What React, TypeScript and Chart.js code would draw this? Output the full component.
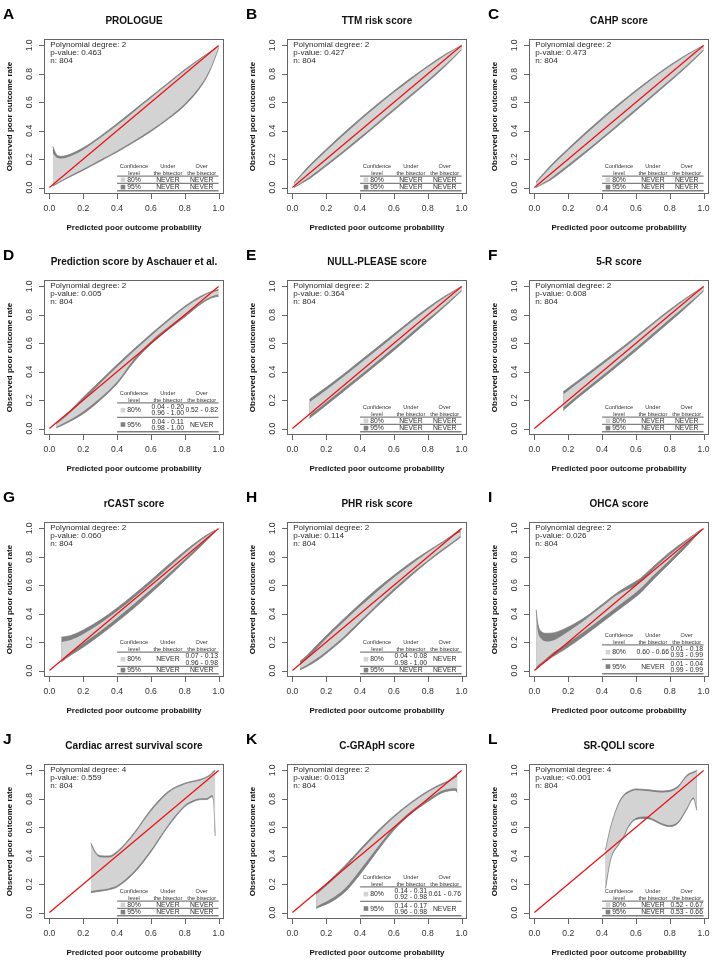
import React, { useEffect, useRef } from 'react';
import { Chart, registerables } from 'chart.js';

Chart.register(...registerables);

const FONT = '"Liberation Sans", Arial, Helvetica, sans-serif';
const LIGHT = '#d3d3d3';
const DARK = '#808080';
const RED = '#ee1111';
const BOX = '#666666';
const INK = '#2a2a2a';

const LETTERS = ['A', 'B', 'C', 'D', 'E', 'F', 'G', 'H', 'I', 'J', 'K', 'L'];
const TITLES = [
  'PROLOGUE', 'TTM risk score', 'CAHP score',
  'Prediction score by Aschauer et al.', 'NULL-PLEASE score', '5-R score',
  'rCAST score', 'PHR risk score', 'OHCA score',
  'Cardiac arrest survival score', 'C-GRApH score', 'SR-QOLI score',
];
const DEGREES = [2, 2, 2, 2, 2, 2, 2, 2, 2, 4, 2, 4];
const P_VALUES = ['0.463', '0.427', '0.473', '0.005', '0.364', '0.608', '0.060', '0.114', '0.026', '0.559', '0.013', '<0.001'];
const N_OBS = [804, 804, 804, 804, 804, 804, 804, 804, 804, 804, 804, 804];
const TICK_VALUES = [0, 0.2, 0.4, 0.6, 0.8, 1.0];
const TICK_LABELS = ['0.0', '0.2', '0.4', '0.6', '0.8', '1.0'];
const X_TITLE = 'Predicted poor outcome probability';
const Y_TITLE = 'Observed poor outcome rate';
const HEADER_1 = ['Confidence', 'Under', 'Over'];
const HEADER_2 = ['level', 'the bisector', 'the bisector'];
const LEVELS = ['80%', '95%'];

// ---- belt data (x, upper95, upper80, lower80, lower95) ----
const A_X = [0.02, 0.04, 0.07, 0.1, 0.2, 0.3, 0.4, 0.5, 0.6, 0.7, 0.8, 0.9, 0.95, 1.0];
const A_UP95 = [0.29, 0.235, 0.22, 0.225, 0.28, 0.36, 0.45, 0.545, 0.64, 0.735, 0.83, 0.915, 0.955, 0.995];
const A_UP80 = [0.245, 0.214, 0.205, 0.21, 0.267, 0.348, 0.438, 0.534, 0.63, 0.726, 0.822, 0.91, 0.952, 0.993];
const A_LO80 = [0.015, 0.03, 0.05, 0.07, 0.13, 0.195, 0.26, 0.33, 0.405, 0.49, 0.59, 0.73, 0.835, 0.985];
const A_LO95 = [0.01, 0.024, 0.044, 0.063, 0.122, 0.186, 0.25, 0.32, 0.395, 0.48, 0.578, 0.718, 0.825, 0.98];

const B_X = [0.01, 0.1, 0.2, 0.3, 0.4, 0.5, 0.6, 0.7, 0.8, 0.9, 1.0];
const B_UP95 = [0.035, 0.155, 0.27, 0.38, 0.485, 0.585, 0.68, 0.77, 0.855, 0.935, 1.0];
const B_UP80 = [0.028, 0.143, 0.257, 0.367, 0.472, 0.572, 0.668, 0.759, 0.846, 0.928, 0.997];
const B_LO80 = [0.004, 0.075, 0.165, 0.258, 0.355, 0.455, 0.555, 0.655, 0.755, 0.86, 0.975];
const B_LO95 = [0.001, 0.063, 0.152, 0.245, 0.342, 0.442, 0.542, 0.642, 0.743, 0.85, 0.97];

const C_X = [0.01, 0.1, 0.2, 0.3, 0.4, 0.5, 0.6, 0.7, 0.8, 0.9, 1.0];
const C_UP95 = [0.04, 0.16, 0.275, 0.385, 0.49, 0.59, 0.685, 0.775, 0.86, 0.935, 1.0];
const C_UP80 = [0.032, 0.148, 0.262, 0.372, 0.478, 0.578, 0.674, 0.765, 0.851, 0.929, 0.997];
const C_LO80 = [0.004, 0.07, 0.16, 0.255, 0.353, 0.453, 0.554, 0.655, 0.756, 0.86, 0.972];
const C_LO95 = [0.001, 0.058, 0.147, 0.242, 0.34, 0.44, 0.541, 0.643, 0.745, 0.85, 0.965];

const D_X = [0.04, 0.08, 0.12, 0.2, 0.3, 0.4, 0.5, 0.6, 0.7, 0.8, 0.9, 0.96, 1.0];
const D_UP95 = [0.036, 0.075, 0.122, 0.22, 0.335, 0.45, 0.56, 0.665, 0.765, 0.86, 0.935, 0.965, 0.978];
const D_UP80 = [0.03, 0.067, 0.108, 0.2, 0.318, 0.433, 0.545, 0.652, 0.753, 0.85, 0.925, 0.958, 0.97];
const D_LO80 = [0.01, 0.035, 0.06, 0.12, 0.215, 0.33, 0.49, 0.615, 0.712, 0.802, 0.89, 0.93, 0.945];
const D_LO95 = [0.005, 0.026, 0.05, 0.105, 0.2, 0.315, 0.47, 0.595, 0.695, 0.785, 0.88, 0.92, 0.93];

const E_X = [0.1, 0.2, 0.3, 0.4, 0.5, 0.6, 0.7, 0.8, 0.9, 1.0];
const E_UP95 = [0.205, 0.29, 0.38, 0.475, 0.57, 0.665, 0.76, 0.85, 0.93, 1.0];
const E_UP80 = [0.185, 0.272, 0.363, 0.458, 0.553, 0.65, 0.746, 0.838, 0.922, 0.996];
const E_LO80 = [0.092, 0.185, 0.28, 0.375, 0.472, 0.57, 0.67, 0.77, 0.87, 0.975];
const E_LO95 = [0.072, 0.165, 0.26, 0.355, 0.452, 0.55, 0.652, 0.754, 0.858, 0.968];

const F_X = [0.17, 0.25, 0.35, 0.45, 0.55, 0.65, 0.75, 0.85, 0.93, 1.0];
const F_UP95 = [0.26, 0.33, 0.42, 0.51, 0.6, 0.695, 0.79, 0.88, 0.945, 1.0];
const F_UP80 = [0.24, 0.313, 0.404, 0.495, 0.587, 0.683, 0.779, 0.871, 0.939, 0.996];
const F_LO80 = [0.15, 0.23, 0.325, 0.42, 0.518, 0.618, 0.72, 0.82, 0.9, 0.975];
const F_LO95 = [0.128, 0.21, 0.305, 0.4, 0.498, 0.598, 0.7, 0.803, 0.888, 0.968];

const G_X = [0.07, 0.1, 0.13, 0.2, 0.3, 0.4, 0.5, 0.6, 0.7, 0.8, 0.9, 0.96, 0.98];
const G_UP95 = [0.235, 0.24, 0.248, 0.285, 0.355, 0.44, 0.535, 0.635, 0.74, 0.84, 0.93, 0.975, 0.988];
const G_UP80 = [0.2, 0.208, 0.217, 0.258, 0.332, 0.418, 0.513, 0.615, 0.72, 0.825, 0.92, 0.97, 0.984];
const G_LO80 = [0.075, 0.105, 0.132, 0.192, 0.277, 0.37, 0.468, 0.57, 0.675, 0.785, 0.895, 0.962, 0.981];
const G_LO95 = [0.06, 0.088, 0.112, 0.165, 0.25, 0.343, 0.44, 0.545, 0.655, 0.768, 0.88, 0.952, 0.974];

const H_X = [0.045, 0.08, 0.15, 0.2, 0.3, 0.4, 0.5, 0.6, 0.7, 0.8, 0.9, 0.98, 0.995];
const H_UP95 = [0.065, 0.1, 0.185, 0.245, 0.36, 0.47, 0.575, 0.67, 0.76, 0.84, 0.915, 0.983, 0.997];
const H_UP80 = [0.04, 0.078, 0.163, 0.225, 0.34, 0.45, 0.555, 0.655, 0.745, 0.83, 0.908, 0.968, 0.975];
const H_LO80 = [0.015, 0.035, 0.09, 0.135, 0.235, 0.35, 0.465, 0.575, 0.68, 0.775, 0.865, 0.935, 0.95];
const H_LO95 = [0.005, 0.025, 0.075, 0.12, 0.22, 0.335, 0.45, 0.56, 0.665, 0.765, 0.855, 0.925, 0.94];

const I_X = [0.01, 0.02, 0.04, 0.07, 0.1, 0.18, 0.3, 0.4, 0.5, 0.6, 0.63, 0.7, 0.8, 0.9, 0.95, 0.99];
const I_UP95 = [0.43, 0.33, 0.275, 0.262, 0.263, 0.295, 0.375, 0.465, 0.556, 0.628, 0.652, 0.728, 0.832, 0.92, 0.962, 0.995];
const I_UP80 = [0.4, 0.28, 0.225, 0.205, 0.208, 0.26, 0.358, 0.45, 0.54, 0.598, 0.624, 0.71, 0.815, 0.91, 0.958, 0.993];
const I_LO80 = [0.02, 0.035, 0.055, 0.085, 0.117, 0.181, 0.28, 0.37, 0.46, 0.55, 0.58, 0.665, 0.778, 0.893, 0.953, 0.991];
const I_LO95 = [0.011, 0.022, 0.042, 0.066, 0.092, 0.15, 0.25, 0.34, 0.43, 0.52, 0.55, 0.638, 0.755, 0.875, 0.94, 0.991];

const J_X = [0.245, 0.27, 0.3, 0.35, 0.4, 0.5, 0.6, 0.7, 0.8, 0.85, 0.9, 0.93, 0.96, 0.97, 0.98];
const J_UP95 = [0.49, 0.43, 0.4, 0.398, 0.43, 0.56, 0.725, 0.85, 0.91, 0.925, 0.94, 0.955, 0.98, 0.995, 1.0];
const J_UP80 = [0.475, 0.42, 0.39, 0.388, 0.42, 0.55, 0.713, 0.84, 0.902, 0.918, 0.933, 0.948, 0.972, 0.985, 0.99];
const J_LO80 = [0.15, 0.155, 0.16, 0.17, 0.19, 0.29, 0.44, 0.615, 0.755, 0.79, 0.805, 0.805, 0.825, 0.8, 0.56];
const J_LO95 = [0.14, 0.145, 0.15, 0.16, 0.18, 0.278, 0.427, 0.603, 0.745, 0.78, 0.795, 0.795, 0.815, 0.79, 0.54];

const K_X = [0.14, 0.17, 0.22, 0.31, 0.4, 0.5, 0.6, 0.7, 0.8, 0.88, 0.92, 0.96, 0.975];
const K_UP95 = [0.135, 0.17, 0.225, 0.33, 0.445, 0.57, 0.68, 0.775, 0.855, 0.905, 0.925, 0.958, 0.97];
const K_UP80 = [0.125, 0.155, 0.208, 0.31, 0.43, 0.555, 0.668, 0.765, 0.847, 0.895, 0.917, 0.945, 0.955];
const K_LO80 = [0.04, 0.06, 0.09, 0.17, 0.3, 0.455, 0.6, 0.712, 0.795, 0.855, 0.87, 0.875, 0.87];
const K_LO95 = [0.03, 0.045, 0.07, 0.145, 0.27, 0.43, 0.58, 0.695, 0.78, 0.84, 0.855, 0.86, 0.845];

const L_X = [0.42, 0.45, 0.5, 0.53, 0.55, 0.6, 0.66, 0.7, 0.75, 0.8, 0.85, 0.9, 0.94, 0.96];
const L_UP95 = [0.44, 0.6, 0.775, 0.83, 0.848, 0.87, 0.865, 0.86, 0.855, 0.86, 0.89, 0.965, 0.99, 1.0];
const L_UP80 = [0.43, 0.59, 0.765, 0.82, 0.838, 0.86, 0.855, 0.85, 0.845, 0.85, 0.88, 0.955, 0.982, 0.99];
const L_LO80 = [0.19, 0.38, 0.49, 0.545, 0.6, 0.665, 0.675, 0.66, 0.63, 0.615, 0.64, 0.735, 0.81, 0.74];
const L_LO95 = [0.17, 0.37, 0.48, 0.535, 0.59, 0.655, 0.662, 0.65, 0.62, 0.605, 0.63, 0.725, 0.8, 0.72];

// ---- table contents: [80% row, 95% row] ----
const NEV = ['NEVER'];
const A_UNDER = [NEV, NEV]; const A_OVER = [NEV, NEV];
const B_UNDER = [NEV, NEV]; const B_OVER = [NEV, NEV];
const C_UNDER = [NEV, NEV]; const C_OVER = [NEV, NEV];
const D_UNDER = [['0.04 - 0.20', '0.96 - 1.00'], ['0.04 - 0.11', '0.98 - 1.00']];
const D_OVER = [['0.52 - 0.82'], NEV];
const E_UNDER = [NEV, NEV]; const E_OVER = [NEV, NEV];
const F_UNDER = [NEV, NEV]; const F_OVER = [NEV, NEV];
const G_UNDER = [NEV, NEV];
const G_OVER = [['0.07 - 0.13', '0.96 - 0.98'], NEV];
const H_UNDER = [['0.04 - 0.08', '0.98 - 1.00'], NEV];
const H_OVER = [NEV, NEV];
const I_UNDER = [['0.60 - 0.66'], NEV];
const I_OVER = [['0.01 - 0.18', '0.93 - 0.99'], ['0.01 - 0.04', '0.99 - 0.99']];
const J_UNDER = [NEV, NEV]; const J_OVER = [NEV, NEV];
const K_UNDER = [['0.14 - 0.31', '0.92 - 0.98'], ['0.14 - 0.17', '0.96 - 0.98']];
const K_OVER = [['0.61 - 0.76'], NEV];
const L_UNDER = [NEV, NEV];
const L_OVER = [['0.52 - 0.67'], ['0.53 - 0.66']];

const PANELS = [
  [A_X, A_UP95, A_UP80, A_LO80, A_LO95, A_UNDER, A_OVER],
  [B_X, B_UP95, B_UP80, B_LO80, B_LO95, B_UNDER, B_OVER],
  [C_X, C_UP95, C_UP80, C_LO80, C_LO95, C_UNDER, C_OVER],
  [D_X, D_UP95, D_UP80, D_LO80, D_LO95, D_UNDER, D_OVER],
  [E_X, E_UP95, E_UP80, E_LO80, E_LO95, E_UNDER, E_OVER],
  [F_X, F_UP95, F_UP80, F_LO80, F_LO95, F_UNDER, F_OVER],
  [G_X, G_UP95, G_UP80, G_LO80, G_LO95, G_UNDER, G_OVER],
  [H_X, H_UP95, H_UP80, H_LO80, H_LO95, H_UNDER, H_OVER],
  [I_X, I_UP95, I_UP80, I_LO80, I_LO95, I_UNDER, I_OVER],
  [J_X, J_UP95, J_UP80, J_LO80, J_LO95, J_UNDER, J_OVER],
  [K_X, K_UP95, K_UP80, K_LO80, K_LO95, K_UNDER, K_OVER],
  [L_X, L_UP95, L_UP80, L_LO80, L_LO95, L_UNDER, L_OVER],
] as any[];

const COL_X = [0, 243, 485];
const ROW_Y = [0, 241, 483, 725];
const W = 229;
const H = 237;

const pts = (xs: number[], ys: number[]) => xs.map((x, i) => ({ x, y: ys[i] }));

function drawTable(ctx: CanvasRenderingContext2D, xs: any, ys: any, under: string[][], over: string[][]) {
  const L = xs.getPixelForValue(0.4);
  const R = xs.getPixelForValue(1.0);
  const cols = [xs.getPixelForValue(0.5), xs.getPixelForValue(0.7), xs.getPixelForValue(0.9)];
  const bottom = ys.getPixelForValue(-0.022);
  const LH = 6.3;
  const rowH = (n: number) => (n > 1 ? 14.4 : 7.3);
  const n1 = Math.max(under[0].length, over[0].length);
  const n2 = Math.max(under[1].length, over[1].length);
  const yMid = bottom - rowH(n2);
  const yHead = yMid - rowH(n1);
  ctx.strokeStyle = '#808080';
  ctx.lineWidth = 1.3;
  [yHead, yMid, bottom].forEach((y) => {
    ctx.beginPath();
    ctx.moveTo(L, y);
    ctx.lineTo(R, y);
    ctx.stroke();
  });
  ctx.fillStyle = '#333';
  ctx.font = `5.6px ${FONT}`;
  ctx.textAlign = 'center';
  ctx.textBaseline = 'middle';
  cols.forEach((c, i) => {
    ctx.fillText(HEADER_1[i], c, yHead - 9.2);
    ctx.fillText(HEADER_2[i], c, yHead - 2.8);
  });
  const rows = [[yHead, yMid], [yMid, bottom]];
  rows.forEach(([t, b], r) => {
    const yc = (t + b) / 2;
    ctx.fillStyle = r === 0 ? LIGHT : DARK;
    ctx.fillRect(L + 3.6, yc - 2.3, 4.6, 4.6);
    ctx.fillStyle = INK;
    ctx.font = `6.8px ${FONT}`;
    ctx.textAlign = 'left';
    ctx.fillText(LEVELS[r], L + 10.2, yc + 0.3);
    ctx.textAlign = 'center';
    [under[r], over[r]].forEach((lines, k) => {
      const c = cols[k + 1];
      lines.forEach((s, j) => ctx.fillText(s, c, yc + 0.3 + (j - (lines.length - 1) / 2) * LH));
    });
  });
}

function decorate(chart: any, idx: number) {
  const ctx: CanvasRenderingContext2D = chart.ctx;
  const a = chart.chartArea;
  const xs = chart.scales.x;
  const ys = chart.scales.y;
  const p = PANELS[idx];
  ctx.save();
  ctx.strokeStyle = BOX;
  ctx.lineWidth = 1;
  ctx.strokeRect(a.left + 0.5, a.top + 0.5, a.right - a.left - 1, a.bottom - a.top - 1);
  ctx.beginPath();
  TICK_VALUES.forEach((v) => {
    const px = Math.round(xs.getPixelForValue(v)) + 0.5;
    ctx.moveTo(px, a.bottom);
    ctx.lineTo(px, a.bottom + 5);
    const py = Math.round(ys.getPixelForValue(v)) + 0.5;
    ctx.moveTo(a.left, py);
    ctx.lineTo(a.left - 5, py);
  });
  ctx.stroke();
  ctx.fillStyle = '#333';
  ctx.font = `8.6px ${FONT}`;
  ctx.textAlign = 'center';
  ctx.textBaseline = 'middle';
  TICK_VALUES.forEach((v, i) => {
    ctx.fillText(TICK_LABELS[i], xs.getPixelForValue(v), a.bottom + 14.7);
    ctx.save();
    ctx.translate(a.left - 14, ys.getPixelForValue(v));
    ctx.rotate(-Math.PI / 2);
    ctx.fillText(TICK_LABELS[i], 0, 0);
    ctx.restore();
  });
  const cx = (xs.getPixelForValue(0) + xs.getPixelForValue(1)) / 2;
  const cy = (ys.getPixelForValue(0) + ys.getPixelForValue(1)) / 2;
  ctx.fillStyle = '#111';
  ctx.font = `bold 8px ${FONT}`;
  ctx.fillText(X_TITLE, cx, a.bottom + 34);
  ctx.save();
  ctx.translate(a.left - 34.5, cy);
  ctx.rotate(-Math.PI / 2);
  ctx.fillText(Y_TITLE, 0, 0);
  ctx.restore();
  ctx.font = `bold 10px ${FONT}`;
  ctx.fillText(TITLES[idx], cx, a.top - 18);
  ctx.textAlign = 'left';
  ctx.textBaseline = 'alphabetic';
  ctx.fillStyle = '#000';
  ctx.font = `bold 15.5px ${FONT}`;
  ctx.fillText(LETTERS[idx], 3, 18.5);
  ctx.fillStyle = INK;
  ctx.font = `8.1px ${FONT}`;
  ctx.textBaseline = 'middle';
  const ax = xs.getPixelForValue(0) + 0.8;
  ctx.fillText(`Polynomial degree: ${DEGREES[idx]}`, ax, a.top + 5.8);
  ctx.fillText(`p-value: ${P_VALUES[idx]}`, ax, a.top + 13.8);
  ctx.fillText(`n: ${N_OBS[idx]}`, ax, a.top + 21.8);
  drawTable(ctx, xs, ys, p[5], p[6]);
  ctx.restore();
}

function Panel({ idx }: { idx: number }) {
  const ref = useRef<HTMLCanvasElement | null>(null);
  useEffect(() => {
    const [X, UP95, UP80, LO80, LO95] = PANELS[idx];
    const base = { pointRadius: 0, cubicInterpolationMode: 'monotone' };
    const chart = new Chart(ref.current as HTMLCanvasElement, {
      type: 'line',
      data: {
        datasets: [
          { ...base, data: pts(X, LO95), borderColor: DARK, borderWidth: 0.8, fill: false, order: 3 },
          { ...base, data: pts(X, UP95), borderColor: DARK, borderWidth: 0.8, backgroundColor: DARK, fill: '-1', order: 3 },
          { ...base, data: pts(X, LO80), borderColor: 'rgba(0,0,0,0)', borderWidth: 0, fill: false, order: 2 },
          { ...base, data: pts(X, UP80), borderColor: 'rgba(0,0,0,0)', borderWidth: 0, backgroundColor: LIGHT, fill: '-1', order: 2 },
          { pointRadius: 0, data: [{ x: 0, y: 0 }, { x: 1, y: 1 }], borderColor: RED, borderWidth: 1.25, fill: false, order: 1 },
        ] as any,
      },
      options: {
        animation: false,
        responsive: false,
        maintainAspectRatio: false,
        events: [],
        layout: { padding: { left: 44, top: 39, right: W - 224, bottom: H - 194 } },
        scales: {
          x: { type: 'linear', min: -0.032, max: 1.032, display: false },
          y: { type: 'linear', min: -0.045, max: 1.045, display: false },
        },
        plugins: { legend: { display: false }, tooltip: { enabled: false } },
      } as any,
      plugins: [{ id: 'decor' + idx, afterDraw: (c: any) => decorate(c, idx) }],
    });
    return () => chart.destroy();
  }, [idx]);
  return (
    <canvas
      ref={ref}
      width={W}
      height={H}
      style={{ position: 'absolute', left: COL_X[idx % 3], top: ROW_Y[Math.floor(idx / 3)], width: W, height: H }}
    />
  );
}

export default function App() {
  useEffect(() => {
    document.body.style.margin = '0';
  }, []);
  return (
    <div style={{ position: 'relative', width: 714, height: 962, background: '#fff', overflow: 'hidden' }}>
      {PANELS.map((_: any, i: number) => (
        <Panel key={i} idx={i} />
      ))}
    </div>
  );
}
